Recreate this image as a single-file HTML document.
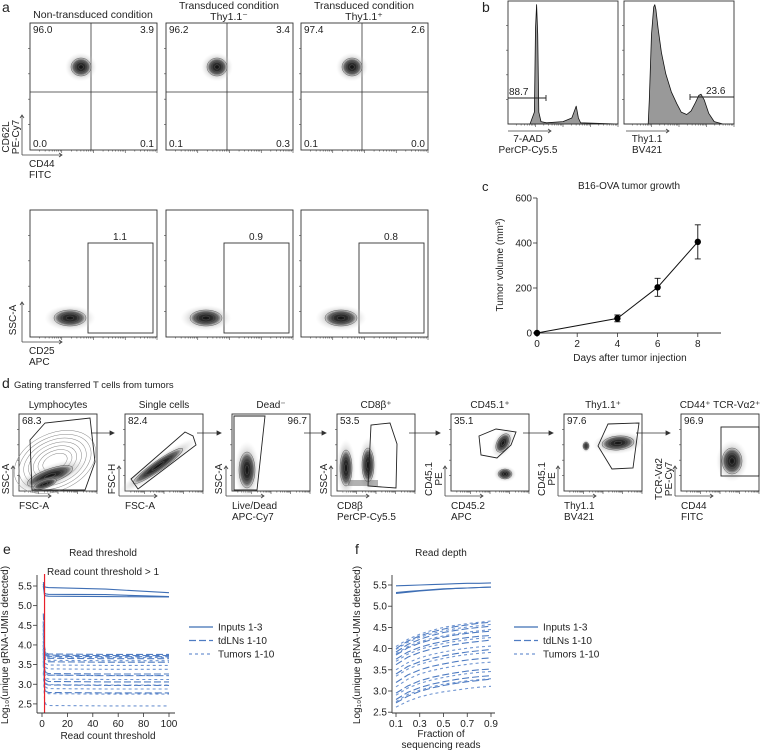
<!DOCTYPE html>
<html><head><meta charset="utf-8">
<style>
html,body{margin:0;padding:0;background:#fff;}
svg{display:block;font-family:"Liberation Sans",Arial,sans-serif;}
text{fill:#222;}
</style></head>
<body>
<svg id="fig" width="762" height="751" viewBox="0 0 762 751" xmlns="http://www.w3.org/2000/svg">
<defs>
<radialGradient id="blobg"><stop offset="0" stop-color="#111"/><stop offset="0.5" stop-color="#333"/><stop offset="0.85" stop-color="#888"/><stop offset="1" stop-color="#ccc" stop-opacity="0.3"/></radialGradient>
<radialGradient id="softg"><stop offset="0" stop-color="#555"/><stop offset="0.6" stop-color="#aaa" stop-opacity="0.5"/><stop offset="1" stop-color="#ddd" stop-opacity="0"/></radialGradient>
</defs>
</svg>
<script>
const svg=document.getElementById('fig');
const NS='http://www.w3.org/2000/svg';
function mk(tag,attrs,parent){const e=document.createElementNS(NS,tag);for(const k in attrs)e.setAttribute(k,attrs[k]);(parent||svg).appendChild(e);return e;}
function tx(x,y,s,size,anchor,extra){const e=mk('text',Object.assign({x:x,y:y,'font-size':size||10,'text-anchor':anchor||'start'},extra||{}));e.textContent=s;return e;}
function rtx(x,y,s,size){const e=mk('text',{x:0,y:0,'font-size':size||10,'text-anchor':'middle',transform:'translate('+x+','+y+') rotate(-90)'});e.textContent=s;return e;}
function blob(cx,cy,rx,ry,rot){const g=mk('g',{transform:'rotate('+(rot||0)+','+cx+','+cy+')'});
 mk('ellipse',{cx:cx,cy:cy,rx:rx*1.6,ry:ry*1.6,fill:'url(#softg)'},g);
 for(let i=4;i>=1;i--){mk('ellipse',{cx:cx,cy:cy,rx:rx*i/4,ry:ry*i/4,fill:i===4?'url(#blobg)':'none',stroke:'#555','stroke-width':0.5},g);}
 return g;}
function axArrow(x0,y0,len,vertical){if(vertical)return mk('path',{d:`M${x0},${y0}V${y0-len}M${x0-2},${y0-len+3}L${x0},${y0-len}L${x0+2},${y0-len+3}`,stroke:'#444',fill:'none','stroke-width':0.8});
 return mk('path',{d:`M${x0},${y0}H${x0+len}M${x0+len-3},${y0-2}L${x0+len},${y0}L${x0+len-3},${y0+2}`,stroke:'#444',fill:'none','stroke-width':0.8});}
function flowTicks(L,T,W,H){
 let d='';
 for(let k=1;k<5;k++){const y=T+H*k/5;d+=`M${L},${y}h-2`;}
 for(let k=0;k<4;k++){const x0=L+W*k/4;for(let j=1;j<9;j++){const x=x0+W/4*Math.log10(j+1);d+=`M${x},${T+H}v${j===9?3:1.5}`;}d+=`M${x0+W/4},${T+H}v3`;}
 mk('path',{d:d,stroke:'#444','stroke-width':0.6,fill:'none'});
}

/* ---------- Panel a ---------- */
let e;
e=tx(2,12,'a',14);

const aLefts=[30,166,301];
const aQuads=[['96.0','3.9','0.0','0.1'],['96.2','3.4','0.1','0.3'],['97.4','2.6','0.1','0.0']];
const aGates=['1.1','0.9','0.8'];
e=tx(93,18,'Non-transduced condition',10.5,'middle');

e=tx(229,9,'Transduced condition',10.5,'middle');

e=tx(229,20,'Thy1.1\u207B',10.5,'middle');

e=tx(364,9,'Transduced condition',10.5,'middle');

e=tx(364,20,'Thy1.1\u207A',10.5,'middle');

aLefts.forEach((L,i)=>{
 const w=127;
 e=mk('rect',{x:L,y:23,width:w,height:127,fill:'none',stroke:'#333','stroke-width':0.9});
 
 flowTicks(L,23,w,127);
 mk('line',{x1:L+61,y1:23,x2:L+61,y2:150,stroke:'#333','stroke-width':0.8});
 mk('line',{x1:L,y1:92,x2:L+w,y2:92,stroke:'#333','stroke-width':0.8});
 e=blob(L+51,67,10,9,0);
 
 const q=aQuads[i];
 e=tx(L+3,33,q[0],10);
 e=tx(L+w-3,33,q[1],10,'end');
 e=tx(L+3,147,q[2],10);
 e=tx(L+w-3,147,q[3],10,'end');
 e=mk('rect',{x:L,y:210,width:w,height:127,fill:'none',stroke:'#333','stroke-width':0.9});
 
 flowTicks(L,210,w,127);
 e=mk('rect',{x:L+58,y:243,width:65,height:90,fill:'none',stroke:'#333','stroke-width':0.9});
 
 e=tx(L+90,240,aGates[i],10,'middle');
 e=blob(L+40,318,16,8,0);
 
});
axArrow(22,155,40,true);axArrow(22,155,40,false);
rtx(9,137,'CD62L',10);rtx(19,137,'PE-Cy7',10);
e=tx(29,167,'CD44',10);
tx(29,178,'FITC',10);
axArrow(22,342,40,true);axArrow(22,342,40,false);
e=rtx(16,320,'SSC-A',10);
tx(29,354,'CD25',10);tx(29,365,'APC',10);

/* ---------- Panel b ---------- */
e=tx(482,12,'b',14);
const hist1X=[0,20,24,25,26,27,28,30,35,50,58,60,62,64,66,100];
const hist1Y=[0,0,0.1,0.8,1.0,0.75,0.1,0.02,0.01,0.02,0.05,0.1,0.15,0.05,0.01,0];
const hist2X=[0,22,23,25,27,28,29,31,34,38,43,48,52,57,61,65,68,70,73,77,82,90,100];
const hist2Y=[0,0,0.2,0.75,0.98,1.0,0.96,0.8,0.6,0.42,0.27,0.17,0.1,0.08,0.11,0.18,0.24,0.25,0.2,0.09,0.02,0,0];
function hist(L,xs,ys,name){
 const W=110,T=1,H=123;
 const sx=v=>L+v/100*W, sy=v=>T+H-v*H*0.97;
 let d='M'+sx(xs[0])+','+sy(0);
 xs.forEach((x,i)=>d+='L'+sx(x).toFixed(1)+','+sy(ys[i]).toFixed(1));
 d+='L'+sx(100)+','+sy(0)+'Z';
 e=mk('path',{d:d,fill:'#999',stroke:'#111','stroke-width':0.8,'stroke-linejoin':'round'});
 
 e=mk('rect',{x:L,y:T,width:W,height:H,fill:'none',stroke:'#333','stroke-width':0.9});
 
 flowTicks(L,T,W,H);
}
hist(508,hist1X,hist1Y,'7aad-histogram');
hist(624,hist2X,hist2Y,'thy11-histogram');
mk('path',{d:'M508,98H546M546,95V101',stroke:'#222','stroke-width':0.9,fill:'none'});
e=tx(509,95,'88.7',10);
mk('path',{d:'M690,97H734M690,94V100',stroke:'#222','stroke-width':0.9,fill:'none'});
e=tx(706,94,'23.6',10);
axArrow(508,131,43,false);axArrow(626,131,43,false);
tx(528,142,'7-AAD',10,'middle');tx(528,153,'PerCP-Cy5.5',10,'middle');
tx(647,142,'Thy1.1',10,'middle');tx(647,153,'BV421',10,'middle');

/* ---------- Panel c ---------- */
e=tx(482,191,'c',13);
const cDays=[0,4,6,8];
const cVol=[0,65,203,405];
const cErr=[0,15,40,76];
const cXTicks=[0,2,4,6,8];
const cYTicks=[0,200,400,600];
const cx=v=>537+v*20.1, cy=v=>333-v*(135/600);
e=tx(629,189,'B16-OVA tumor growth',10,'middle');
e=mk('line',{x1:537,y1:198,x2:537,y2:333,stroke:'#333','stroke-width':0.9});
e=mk('line',{x1:537,y1:333,x2:721,y2:333,stroke:'#333','stroke-width':0.9});
cYTicks.forEach(v=>{mk('line',{x1:533,y1:cy(v),x2:537,y2:cy(v),stroke:'#333','stroke-width':0.8});
 e=tx(532,cy(v)+3.5,String(v),10,'end');});
cXTicks.forEach(v=>{mk('line',{x1:cx(v),y1:333,x2:cx(v),y2:337,stroke:'#333','stroke-width':0.8});
 e=tx(cx(v),347,String(v),10,'middle');});
e=tx(630,361,'Days after tumor injection',10,'middle');
e=rtx(503,265,'Tumor volume (mm\u00B3)',10);
e=mk('polyline',{points:cDays.map((d,i)=>cx(d)+','+cy(cVol[i])).join(' '),fill:'none',stroke:'#111','stroke-width':1});

cDays.forEach((d,i)=>{
 if(cErr[i]>0){e=mk('path',{d:`M${cx(d)},${cy(cVol[i]-cErr[i])}V${cy(cVol[i]+cErr[i])}M${cx(d)-3},${cy(cVol[i]-cErr[i])}h6M${cx(d)-3},${cy(cVol[i]+cErr[i])}h6`,stroke:'#111','stroke-width':0.9,fill:'none'});
 }
 e=mk('circle',{cx:cx(d),cy:cy(cVol[i]),r:3.2,fill:'#000'});
 
});

/* ---------- Panel d ---------- */
e=tx(2,388,'d',14);
e=tx(14,388,'Gating transferred T cells from tumors',9.5);
const dL=[19,125,232,337,451,564,681];
const dTitles=['Lymphocytes','Single cells','Dead\u207B','CD8\u03B2\u207A','CD45.1\u207A','Thy1.1\u207A','CD44\u207A TCR-V\u03B12\u207A'];
const dPct=['68.3','82.4','96.7','53.5','35.1','97.6','96.9'];
const dY=[['SSC-A'],['FSC-H'],['SSC-A'],['SSC-A'],['CD45.1','PE'],['CD45.1','PE'],['TCR-V\u03B12','PE-Cy7']];
const dX=[['FSC-A'],['FSC-A'],['Live/Dead','APC-Cy7'],['CD8\u03B2','PerCP-Cy5.5'],['CD45.2','APC'],['Thy1.1','BV421'],['CD44','FITC']];
const T=414,W=78,H=77;
dL.forEach((L,i)=>{
 e=tx(L+W/2,408,dTitles[i],10,'middle');
 e=mk('rect',{x:L,y:T,width:W,height:H,fill:'none',stroke:'#333','stroke-width':0.9});
 
 flowTicks(L,T,W,H);
 e=tx(i===2?L+W-3:L+3,424,dPct[i],10,i===2?'end':'start');
 if(i<6){e=mk('path',{d:`M${L+W-6},${T+19}H${dL[i+1]-12}M${dL[i+1]-15},${T+17}L${dL[i+1]-11},${T+19}L${dL[i+1]-15},${T+21}Z`,stroke:'#333','stroke-width':0.8,fill:'#333'});
  }
 axArrow(L-6,T+H+5,30,true);axArrow(L-6,T+H+5,38,false);
 const ys=dY[i];
 if(ys.length===1){rtx(L-10,T+H-12,ys[0],10);}else{rtx(L-19,T+H-12,ys[0],10);rtx(L-9,T+H-12,ys[1],10);}
 tx(L,T+H+18,dX[i][0],10);if(dX[i][1])tx(L,T+H+29,dX[i][1],10);
});
// lymphocyte contours
for(let k=1;k<=7;k++){mk('ellipse',{cx:55,cy:462,rx:8+k*5,ry:4+k*3.5,fill:'none',stroke:'#888','stroke-width':0.5,transform:'rotate(-25,55,462)'});}
blob(50,476,24,7,-20);blob(45,484,12,4,-20);
mk('polygon',{points:'30,440 45,423 90,418 95,462 85,490 32,490',fill:'none',stroke:'#222','stroke-width':0.9});
blob(158,466,30,5,-35);
mk('polygon',{points:'131,479 185,432 193,436 196,445 138,489',fill:'none',stroke:'#222','stroke-width':0.9});
blob(247,470,8,18,0);
mk('polygon',{points:'234,416 265,416 257,490 234,490',fill:'none',stroke:'#222','stroke-width':0.9});
blob(346,468,6,18,0);blob(368,465,6,17,0);mk('rect',{x:348,y:480,width:30,height:6,fill:'#666','fill-opacity':0.5});
mk('polygon',{points:'368,486 371,425 390,423 397,444 396,488',fill:'none',stroke:'#222','stroke-width':0.9});
blob(503,443,6,10,30);blob(505,474,7,5,0);
mk('polygon',{points:'479,436 496,429 516,432 511,445 497,458 481,455',fill:'none',stroke:'#222','stroke-width':0.9});
blob(618,443,16,7,-5);blob(586,446,3,4,0);
mk('polygon',{points:'598,446 608,424 639,423 633,468 612,469',fill:'none',stroke:'#222','stroke-width':0.9});
blob(732,461,10,13,0);
mk('rect',{x:721,y:427,width:38,height:49,fill:'none',stroke:'#222','stroke-width':0.9});

/* ---------- Panel e ---------- */
e=tx(3,554,'e',14);
const eX=[1,2,3,5,50,100];
const eInputs=[[5.6,5.48,5.47,5.46,5.42,5.33],[5.55,5.32,5.3,5.29,5.28,5.23],[5.5,5.27,5.25,5.24,5.23,5.22]];
const eTdLN=[[4.8,3.95,3.80,3.77,3.76,3.76],[4.6,3.90,3.76,3.74,3.73,3.73],[4.5,3.88,3.73,3.71,3.70,3.70],[4.4,3.80,3.68,3.66,3.65,3.65],[4.3,3.72,3.60,3.57,3.56,3.56],[4.1,3.45,3.30,3.27,3.26,3.26],[4.0,3.40,3.26,3.23,3.22,3.22],[3.9,3.25,3.10,3.07,3.06,3.06],[3.8,3.15,3.00,2.98,2.97,2.97],[3.6,2.95,2.82,2.79,2.78,2.78]];
const eTumors=[[4.6,3.85,3.72,3.69,3.68,3.68],[4.5,3.78,3.64,3.61,3.60,3.60],[4.3,3.65,3.52,3.49,3.48,3.48],[4.2,3.55,3.42,3.39,3.38,3.38],[4.0,3.40,3.26,3.23,3.22,3.22],[3.9,3.30,3.16,3.13,3.12,3.12],[3.8,3.15,3.02,2.99,2.98,2.98],[3.7,3.05,2.92,2.89,2.88,2.88],[3.5,2.92,2.79,2.76,2.75,2.75],[3.3,2.62,2.49,2.46,2.45,2.45]];
const eXTicks=[0,20,40,60,80,100];
const eYTicks=[2.5,3.0,3.5,4.0,4.5,5.0,5.5];
const ex=v=>42+v*1.27;
function eyf(v){return 586+(5.5-v)*39.3;}
const COL_IN='#3f6fb5',COL_TD='#4f7cc2',COL_TU='#6f95d2';
function series(xf,yf,xs,vals,col,dash,name){
 e=mk('polyline',{points:xs.map((x,i)=>xf(x).toFixed(1)+','+yf(vals[i]).toFixed(1)).join(' '),fill:'none',stroke:col,'stroke-width':1.1,'stroke-dasharray':dash});
 
}
eInputs.forEach(s=>series(ex,eyf,eX,s,COL_IN,'none','input-line'));
eTdLN.forEach(s=>series(ex,eyf,eX,s,COL_TD,'7,3','tdln-line'));
eTumors.forEach(s=>series(ex,eyf,eX,s,COL_TU,'3,3','tumor-line'));
e=mk('line',{x1:ex(2),y1:574,x2:ex(2),y2:713,stroke:'#e8202a','stroke-width':1.2});

e=mk('line',{x1:37,y1:575,x2:37,y2:713,stroke:'#333','stroke-width':0.9});
e=mk('line',{x1:37,y1:713,x2:175,y2:713,stroke:'#333','stroke-width':0.9});
eYTicks.forEach(v=>{mk('line',{x1:33,y1:eyf(v),x2:37,y2:eyf(v),stroke:'#333','stroke-width':0.8});
 e=tx(32,eyf(v)+3.5,v.toFixed(1),10,'end');});
eXTicks.forEach(v=>{mk('line',{x1:ex(v),y1:713,x2:ex(v),y2:717,stroke:'#333','stroke-width':0.8});
 e=tx(ex(v),727,String(v),10,'middle');});
e=tx(103,556,'Read threshold',10,'middle');
e=tx(103,575,'Read count threshold > 1',10,'middle');
e=tx(108,739,'Read count threshold',10,'middle');
e=rtx(8,645,'Log\u2081\u2080(unique gRNA-UMIs detected)',10);
function legend(x,y0,name){
 const items=[['Inputs 1-3',COL_IN,'none'],['tdLNs 1-10',COL_TD,'7,3'],['Tumors 1-10',COL_TU,'3,3']];
 items.forEach((it,i)=>{const y=y0+i*13.5;
  e=mk('line',{x1:x,y1:y,x2:x+24,y2:y,stroke:it[1],'stroke-width':1.2,'stroke-dasharray':it[2]});
  
  e=tx(x+29,y+3.5,it[0],10);});
}
legend(189,627,'legend-e');

/* ---------- Panel f ---------- */
e=tx(355,554,'f',14);
const fX=[0.1,0.2,0.3,0.4,0.5,0.6,0.7,0.8,0.9];
const fInputs=[[5.48,5.49,5.50,5.51,5.52,5.53,5.54,5.54,5.55],[5.30,5.33,5.36,5.38,5.40,5.42,5.43,5.44,5.45],[5.32,5.35,5.37,5.39,5.41,5.42,5.43,5.44,5.45]];
const fTdLN=[[4.00,4.18,4.30,4.39,4.46,4.52,4.56,4.60,4.62],[3.92,4.10,4.22,4.31,4.38,4.43,4.47,4.50,4.53],[3.85,4.02,4.13,4.21,4.27,4.32,4.36,4.39,4.41],[3.75,3.92,4.03,4.11,4.17,4.22,4.26,4.29,4.31],[3.62,3.80,3.91,3.99,4.05,4.10,4.14,4.17,4.20],[3.40,3.58,3.69,3.77,3.83,3.88,3.92,3.95,3.98],[3.20,3.38,3.50,3.58,3.64,3.69,3.73,3.76,3.78],[2.95,3.12,3.24,3.32,3.38,3.43,3.47,3.50,3.52],[2.80,2.97,3.08,3.16,3.22,3.27,3.31,3.34,3.36],[2.72,2.88,2.99,3.07,3.13,3.18,3.22,3.25,3.28]];
const fTumors=[[4.05,4.22,4.34,4.43,4.50,4.55,4.59,4.62,4.65],[3.98,4.15,4.27,4.35,4.42,4.47,4.51,4.54,4.57],[3.88,4.05,4.16,4.24,4.30,4.35,4.39,4.42,4.45],[3.70,3.87,3.98,4.06,4.12,4.17,4.21,4.24,4.26],[3.50,3.67,3.78,3.86,3.92,3.97,4.01,4.04,4.06],[3.35,3.52,3.63,3.71,3.77,3.82,3.86,3.89,3.91],[3.10,3.28,3.40,3.48,3.54,3.59,3.63,3.66,3.68],[2.90,3.07,3.18,3.26,3.32,3.37,3.41,3.44,3.46],[2.75,2.92,3.02,3.10,3.16,3.20,3.24,3.27,3.29],[2.62,2.76,2.86,2.93,2.98,3.02,3.06,3.09,3.11]];
const fXTicks=[0.1,0.3,0.5,0.7,0.9];
const fYTicks=[2.5,3.0,3.5,4.0,4.5,5.0,5.5];
const fx=v=>396+(v-0.1)*(95/0.8);
const fy=v=>585+(5.5-v)*42.4;
fInputs.forEach(s=>series(fx,fy,fX,s,COL_IN,'none','input-line'));
fTdLN.forEach(s=>series(fx,fy,fX,s,COL_TD,'7,3','tdln-line'));
fTumors.forEach(s=>series(fx,fy,fX,s,COL_TU,'3,3','tumor-line'));
e=mk('line',{x1:392,y1:575,x2:392,y2:713,stroke:'#333','stroke-width':0.9});
e=mk('line',{x1:392,y1:713,x2:495,y2:713,stroke:'#333','stroke-width':0.9});
fYTicks.forEach(v=>{mk('line',{x1:388,y1:fy(v),x2:392,y2:fy(v),stroke:'#333','stroke-width':0.8});
 e=tx(387,fy(v)+3.5,v.toFixed(1),10,'end');});
fXTicks.forEach(v=>{mk('line',{x1:fx(v),y1:713,x2:fx(v),y2:717,stroke:'#333','stroke-width':0.8});
 e=tx(fx(v),727,String(v),10,'middle');});
e=tx(441,556,'Read depth',10,'middle');
e=tx(441,737,'Fraction of',10,'middle');
tx(441,748,'sequencing reads',10,'middle');
e=rtx(360,645,'Log\u2081\u2080(unique gRNA-UMIs detected)',10);
legend(514,627,'legend-f');
</script>
</body></html>
